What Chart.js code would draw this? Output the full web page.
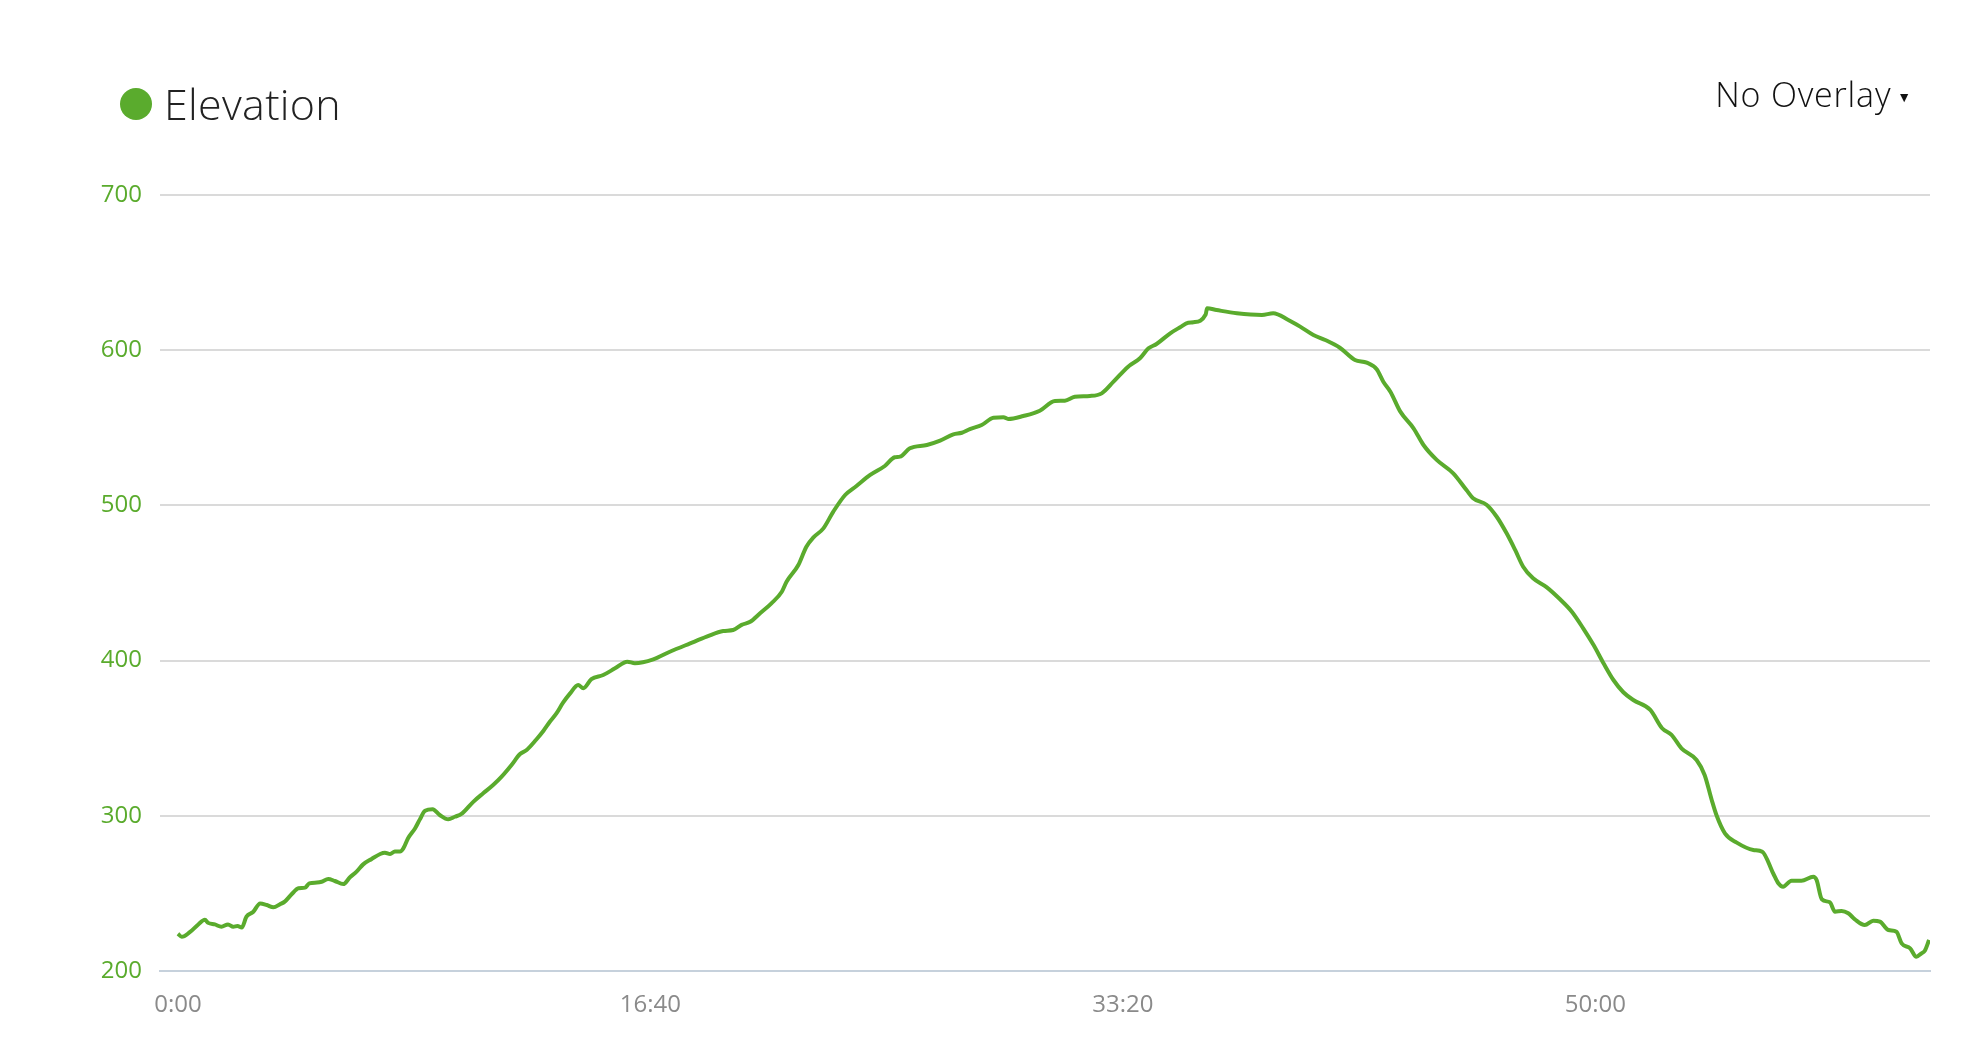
<!DOCTYPE html>
<html>
<head>
<meta charset="utf-8">
<title>Elevation</title>
<script src="https://cdn.jsdelivr.net/npm/chart.js@4.4.1/dist/chart.umd.min.js"></script>
<style>
  body { margin: 0; background: #fff; font-family: "Open Sans", sans-serif; }
  #wrap { position: absolute; left: 0; top: 0; width: 1988px; height: 1038px; }
  #legend { position: absolute; left: 120px; top: 82px; height: 43px; display: flex; align-items: center; }
  #legend .dot { width: 32px; height: 32px; border-radius: 50%; background: #5aab2d; margin-right: 12px; }
  #legend .label { font-size: 43px; font-weight: 300; color: #222; line-height: 1; letter-spacing: 0.3px; }
  #overlay { position: absolute; right: 76px; top: 77px; font-size: 34px; font-weight: 300; color: #111; line-height: 1; letter-spacing: 0.8px; }
  #overlay .arrow { font-size: 14px; vertical-align: 5px; margin-left: 6px; }
</style>
</head>
<body>
<div id="wrap">
  <canvas id="elevationChart"></canvas>
  <div id="legend"><span class="dot"></span><span class="label">Elevation</span></div>
  <div id="overlay">No Overlay<span class="arrow">▼</span></div>
</div>
<script>
// elevation profile, time in seconds from start
var times = [
  0, 8, 25, 43, 57, 64, 78, 92, 106, 117, 126, 135, 145, 159, 174, 188, 202, 216, 226, 241,
  255, 269, 278, 294, 304, 318, 332, 350, 364, 378, 392, 410, 428, 438, 449, 459, 470, 477, 487, 502,
  512, 523, 539, 554, 572, 586, 600, 625, 646, 667, 685, 706, 724, 738, 758, 774,
  787, 801, 815, 830, 847, 858, 875, 900, 925, 951, 967, 1006, 1041, 1084, 1119, 1154, 1175, 1193, 1211, 1232,
  1256, 1278, 1288, 1313, 1330, 1345, 1366, 1387, 1412, 1436, 1465, 1496, 1517, 1528,
  1549, 1585, 1613, 1641, 1659, 1676, 1701, 1726, 1747, 1757, 1789, 1824, 1856, 1877, 1898, 1930, 1955, 1980,
  2011, 2036, 2054, 2071, 2100, 2121, 2138, 2149, 2175, 2178, 2198, 2241, 2294, 2318, 2350,
  2375, 2403, 2428, 2459, 2491, 2516, 2537, 2551, 2566, 2587, 2615, 2636, 2664, 2699, 2727, 2741, 2770, 2791,
  2812, 2830, 2847, 2868, 2897, 2925, 2950, 2974, 2996, 3017, 3038, 3059,
  3080, 3116, 3141, 3161, 3182, 3214, 3231, 3246, 3256, 3274, 3299, 3334, 3353, 3376, 3387, 3397, 3415, 3436,
  3461, 3468, 3479, 3496, 3507, 3521, 3535, 3549, 3570, 3588, 3602, 3620, 3637, 3648, 3666, 3679, 3690, 3697, 3706
];
var elevation = [
  224, 222, 225, 230, 233, 231, 230, 228.5, 230, 228.5, 229, 228, 235, 238, 243.5, 242.5, 241, 243, 244.7, 249.6,
  253.3, 253.7, 256.5, 257, 257.5, 259.3, 258, 256, 260.4, 264, 268.7, 272.2, 275.4, 276.2, 275.4, 277, 277, 279, 285.5, 292,
  297.7, 303.3, 304.2, 300.5, 297.7, 299.4, 301.2, 309, 314.5, 319.8, 325.2, 332.7, 339.8, 342.4, 349, 355,
  360.6, 366, 372.9, 378.9, 384.3, 382.2, 388, 390.7, 395, 399.3, 398.3, 400.8, 405.7, 411.1, 415.4, 419.1, 419.7, 423, 425, 430.5,
  436.9, 444.4, 450.8, 461.6, 473.4, 479.4, 485.2, 496, 506.7, 512.5, 519.6, 525.4, 531, 531.4,
  536.8, 538.9, 541.7, 545.8, 546.8, 549.2, 551.8, 556.5, 556.8, 555.7, 557.6, 561, 567.3, 567.5, 570, 570.5, 572.2, 579.7,
  589.4, 594.8, 601.2, 604, 610.9, 614.8, 617.7, 618, 623, 627, 625.9, 623.8, 622.7, 623.8, 619.5,
  615.2, 609.8, 606.6, 601.6, 593.7, 592, 587.7, 579.7, 573.3, 560.4, 549.7, 538.9, 529.3, 520.7, 509.9, 504.6, 500.3, 492.7,
  482, 471.3, 460.5, 453, 447.2, 439.5, 431.5, 420.8, 410, 398.3, 387.5, 379.6,
  374.6, 368.2, 356.4, 352.1, 343.5, 336, 326.3, 310.2, 300.5, 288.7, 282.7, 278, 276.9, 263, 256.5, 254.3, 258.2, 258.2,
  260.8, 258.6, 246.2, 244.3, 238.2, 238.7, 237.2, 233.3, 229.6, 232.4, 231.8, 226.4, 225.3, 217.8, 214.6, 209.2, 211.4, 213.1, 220
];
var timeTicks = [0, 1000, 2000, 3000];
var elevationTicks = [200, 300, 400, 500, 600, 700];

var green = '#5aab2d';

function formatTime(sec) {
  var m = Math.floor(sec / 60);
  var s = Math.round(sec % 60);
  return m + ':' + (s < 10 ? '0' : '') + s;
}

var points = times.map(function (t, i) { return { x: t, y: elevation[i] }; });

var ctx = document.getElementById('elevationChart').getContext('2d');
var chart = new Chart(ctx, {
  type: 'line',
  data: {
    datasets: [{
      label: 'Elevation',
      data: points,
      borderColor: green,
      borderWidth: 4,
      pointRadius: 0,
      fill: false,
      cubicInterpolationMode: 'monotone'
    }]
  },
  options: {
    responsive: true,
    maintainAspectRatio: false,
    animation: false,
    layout: { padding: { top: 195, right: 58, left: 0, bottom: 0 } },
    plugins: { legend: { display: false }, tooltip: { enabled: false } },
    scales: {
      x: {
        type: 'linear',
        min: -38,
        max: 3708,
        grid: { display: false, drawTicks: false },
        border: { display: true, color: '#c6d1dc', width: 2 },
        afterBuildTicks: function (scale) {
          scale.ticks = timeTicks.map(function (v) { return { value: v }; });
        },
        afterFit: function (scale) { scale.height = 67; },
        ticks: {
          color: '#8a8a8a',
          padding: 20,
          font: { family: 'Open Sans', size: 24 },
          maxRotation: 0,
          callback: function (v) { return formatTime(v); }
        }
      },
      y: {
        min: 200,
        max: 700,
        afterBuildTicks: function (scale) {
          scale.ticks = elevationTicks.map(function (v) { return { value: v }; });
        },
        afterFit: function (scale) { scale.width = 160; },
        grid: {
          drawTicks: false,
          lineWidth: 2,
          color: function (c) { return c.tick && c.tick.value === 200 ? '#c6d1dc' : '#dadada'; }
        },
        border: { display: false },
        ticks: {
          color: green,
          padding: 18,
          font: { family: 'Open Sans', size: 24 }
        }
      }
    }
  }
});
</script>
</body>
</html>
